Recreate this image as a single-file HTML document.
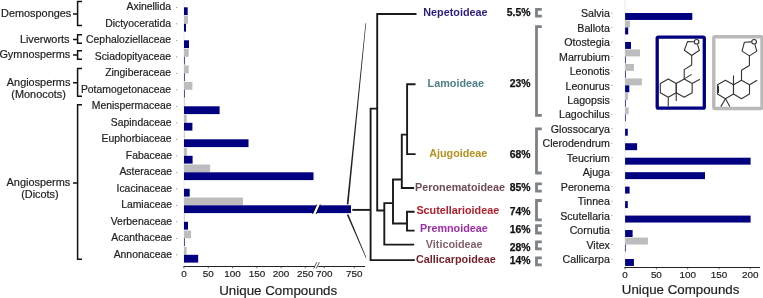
<!DOCTYPE html>
<html><head><meta charset="utf-8"><style>
html,body{margin:0;padding:0;background:#fff;}
svg{display:block;font-family:"Liberation Sans",sans-serif;will-change:transform;}
</style></head><body>
<svg width="763" height="298" viewBox="0 0 763 298">
<rect width="763" height="298" fill="#fff"/>
<rect x="183.60" y="0.00" width="1.00" height="266.00" fill="#ebebeb"/>
<rect x="184.00" y="7.30" width="3.70" height="7.80" fill="#000080"/>
<rect x="176.10" y="6.90" width="1.20" height="0.90" fill="#888"/>
<text x="171.00" y="10.30" font-size="10.4" text-anchor="end" font-weight="normal" fill="#1e1e1e" stroke="#1e1e1e" stroke-width="0.2">Axinellida</text>
<rect x="184.00" y="16.00" width="4.00" height="7.80" fill="#bdbdbd"/>
<rect x="184.00" y="23.80" width="2.00" height="7.80" fill="#000080"/>
<rect x="176.10" y="23.40" width="1.20" height="0.90" fill="#888"/>
<text x="171.00" y="26.80" font-size="10.4" text-anchor="end" font-weight="normal" fill="#1e1e1e" stroke="#1e1e1e" stroke-width="0.2">Dictyoceratida</text>
<rect x="184.00" y="40.30" width="5.00" height="7.80" fill="#000080"/>
<rect x="176.10" y="39.90" width="1.20" height="0.90" fill="#888"/>
<text x="171.00" y="43.30" font-size="10.4" text-anchor="end" font-weight="normal" fill="#1e1e1e" stroke="#1e1e1e" stroke-width="0.2">Cephaloziellaceae</text>
<rect x="184.00" y="49.00" width="4.70" height="7.80" fill="#bdbdbd"/>
<rect x="184.00" y="56.80" width="0.90" height="7.80" fill="#3b3bb0"/>
<rect x="176.10" y="56.40" width="1.20" height="0.90" fill="#888"/>
<text x="171.00" y="59.80" font-size="10.4" text-anchor="end" font-weight="normal" fill="#1e1e1e" stroke="#1e1e1e" stroke-width="0.2">Sciadopityaceae</text>
<rect x="184.00" y="65.50" width="4.70" height="7.80" fill="#bdbdbd"/>
<rect x="184.00" y="73.30" width="0.90" height="7.80" fill="#3b3bb0"/>
<rect x="176.10" y="72.90" width="1.20" height="0.90" fill="#888"/>
<text x="171.00" y="76.30" font-size="10.4" text-anchor="end" font-weight="normal" fill="#1e1e1e" stroke="#1e1e1e" stroke-width="0.2">Zingiberaceae</text>
<rect x="184.00" y="82.00" width="8.40" height="7.80" fill="#bdbdbd"/>
<rect x="184.00" y="89.80" width="0.90" height="7.80" fill="#3b3bb0"/>
<rect x="176.10" y="89.40" width="1.20" height="0.90" fill="#888"/>
<text x="171.00" y="92.80" font-size="10.4" text-anchor="end" font-weight="normal" fill="#1e1e1e" stroke="#1e1e1e" stroke-width="0.2">Potamogetonaceae</text>
<rect x="184.00" y="98.50" width="0.80" height="7.80" fill="#c8c8c8"/>
<rect x="184.00" y="106.30" width="35.60" height="7.80" fill="#000080"/>
<rect x="176.10" y="105.90" width="1.20" height="0.90" fill="#888"/>
<text x="171.50" y="109.30" font-size="10.4" text-anchor="end" font-weight="normal" fill="#1e1e1e" stroke="#1e1e1e" stroke-width="0.2">Menispermaceae</text>
<rect x="184.00" y="115.00" width="2.70" height="7.80" fill="#bdbdbd"/>
<rect x="184.00" y="122.80" width="8.40" height="7.80" fill="#000080"/>
<rect x="176.10" y="122.40" width="1.20" height="0.90" fill="#888"/>
<text x="171.50" y="125.80" font-size="10.4" text-anchor="end" font-weight="normal" fill="#1e1e1e" stroke="#1e1e1e" stroke-width="0.2">Sapindaceae</text>
<rect x="184.00" y="131.50" width="0.80" height="7.80" fill="#c8c8c8"/>
<rect x="184.00" y="139.30" width="64.50" height="7.80" fill="#000080"/>
<rect x="176.10" y="138.90" width="1.20" height="0.90" fill="#888"/>
<text x="171.50" y="142.30" font-size="10.4" text-anchor="end" font-weight="normal" fill="#1e1e1e" stroke="#1e1e1e" stroke-width="0.2">Euphorbiaceae</text>
<rect x="184.00" y="148.00" width="2.90" height="7.80" fill="#bdbdbd"/>
<rect x="184.00" y="155.80" width="8.60" height="7.80" fill="#000080"/>
<rect x="176.10" y="155.40" width="1.20" height="0.90" fill="#888"/>
<text x="172.00" y="158.80" font-size="10.4" text-anchor="end" font-weight="normal" fill="#1e1e1e" stroke="#1e1e1e" stroke-width="0.2">Fabaceae</text>
<rect x="184.00" y="164.50" width="26.20" height="7.80" fill="#bdbdbd"/>
<rect x="184.00" y="172.30" width="129.50" height="7.80" fill="#000080"/>
<rect x="176.10" y="171.90" width="1.20" height="0.90" fill="#888"/>
<text x="172.00" y="175.30" font-size="10.4" text-anchor="end" font-weight="normal" fill="#1e1e1e" stroke="#1e1e1e" stroke-width="0.2">Asteraceae</text>
<rect x="184.00" y="188.80" width="5.70" height="7.80" fill="#000080"/>
<rect x="176.10" y="188.40" width="1.20" height="0.90" fill="#888"/>
<text x="172.00" y="191.80" font-size="10.4" text-anchor="end" font-weight="normal" fill="#1e1e1e" stroke="#1e1e1e" stroke-width="0.2">Icacinaceae</text>
<rect x="184.00" y="197.50" width="59.00" height="7.80" fill="#bdbdbd"/>
<rect x="184.00" y="205.30" width="167.00" height="7.80" fill="#000080"/>
<rect x="176.10" y="204.90" width="1.20" height="0.90" fill="#888"/>
<text x="172.00" y="208.30" font-size="10.4" text-anchor="end" font-weight="normal" fill="#1e1e1e" stroke="#1e1e1e" stroke-width="0.2">Lamiaceae</text>
<rect x="184.00" y="214.00" width="0.80" height="7.80" fill="#c8c8c8"/>
<rect x="184.00" y="221.80" width="4.00" height="7.80" fill="#000080"/>
<rect x="176.10" y="221.40" width="1.20" height="0.90" fill="#888"/>
<text x="172.00" y="224.80" font-size="10.4" text-anchor="end" font-weight="normal" fill="#1e1e1e" stroke="#1e1e1e" stroke-width="0.2">Verbenaceae</text>
<rect x="184.00" y="230.50" width="7.10" height="7.80" fill="#bdbdbd"/>
<rect x="184.00" y="238.30" width="0.90" height="7.80" fill="#3b3bb0"/>
<rect x="176.10" y="237.90" width="1.20" height="0.90" fill="#888"/>
<text x="172.00" y="241.30" font-size="10.4" text-anchor="end" font-weight="normal" fill="#1e1e1e" stroke="#1e1e1e" stroke-width="0.2">Acanthaceae</text>
<rect x="184.00" y="247.00" width="2.60" height="7.80" fill="#bdbdbd"/>
<rect x="184.00" y="254.80" width="14.20" height="7.80" fill="#000080"/>
<rect x="176.10" y="254.40" width="1.20" height="0.90" fill="#888"/>
<text x="172.00" y="257.80" font-size="10.4" text-anchor="end" font-weight="normal" fill="#1e1e1e" stroke="#1e1e1e" stroke-width="0.2">Annonaceae</text>
<polygon points="312.90,214.10 315.90,214.10 320.00,204.30 317.00,204.30" fill="#fff"/>
<line x1="312.60" y1="213.90" x2="316.70" y2="204.50" stroke="#000040" stroke-width="0.9" stroke-linecap="butt"/>
<line x1="316.20" y1="213.90" x2="320.30" y2="204.50" stroke="#000040" stroke-width="0.9" stroke-linecap="butt"/>
<line x1="183.50" y1="266.50" x2="315.00" y2="266.50" stroke="#222" stroke-width="1.1" stroke-linecap="butt"/>
<line x1="318.20" y1="266.50" x2="365.00" y2="266.50" stroke="#222" stroke-width="1.1" stroke-linecap="butt"/>
<line x1="313.80" y1="268.60" x2="316.80" y2="262.20" stroke="#333" stroke-width="0.8" stroke-linecap="butt"/>
<line x1="316.20" y1="268.60" x2="319.40" y2="262.20" stroke="#333" stroke-width="0.8" stroke-linecap="butt"/>
<line x1="183.90" y1="266.50" x2="183.90" y2="268.30" stroke="#444" stroke-width="0.8" stroke-linecap="butt"/>
<text x="183.90" y="277.40" font-size="9.9" text-anchor="middle" font-weight="normal" fill="#1e1e1e" stroke="#1e1e1e" stroke-width="0.2">0</text>
<line x1="208.30" y1="266.50" x2="208.30" y2="268.30" stroke="#444" stroke-width="0.8" stroke-linecap="butt"/>
<text x="208.30" y="277.40" font-size="9.9" text-anchor="middle" font-weight="normal" fill="#1e1e1e" stroke="#1e1e1e" stroke-width="0.2">50</text>
<line x1="232.60" y1="266.50" x2="232.60" y2="268.30" stroke="#444" stroke-width="0.8" stroke-linecap="butt"/>
<text x="232.60" y="277.40" font-size="9.9" text-anchor="middle" font-weight="normal" fill="#1e1e1e" stroke="#1e1e1e" stroke-width="0.2">100</text>
<line x1="256.90" y1="266.50" x2="256.90" y2="268.30" stroke="#444" stroke-width="0.8" stroke-linecap="butt"/>
<text x="256.90" y="277.40" font-size="9.9" text-anchor="middle" font-weight="normal" fill="#1e1e1e" stroke="#1e1e1e" stroke-width="0.2">150</text>
<line x1="281.10" y1="266.50" x2="281.10" y2="268.30" stroke="#444" stroke-width="0.8" stroke-linecap="butt"/>
<text x="281.10" y="277.40" font-size="9.9" text-anchor="middle" font-weight="normal" fill="#1e1e1e" stroke="#1e1e1e" stroke-width="0.2">200</text>
<line x1="305.30" y1="266.50" x2="305.30" y2="268.30" stroke="#444" stroke-width="0.8" stroke-linecap="butt"/>
<text x="305.30" y="277.40" font-size="9.9" text-anchor="middle" font-weight="normal" fill="#1e1e1e" stroke="#1e1e1e" stroke-width="0.2">250</text>
<line x1="324.20" y1="266.50" x2="324.20" y2="268.30" stroke="#444" stroke-width="0.8" stroke-linecap="butt"/>
<text x="324.20" y="277.40" font-size="9.9" text-anchor="middle" font-weight="normal" fill="#1e1e1e" stroke="#1e1e1e" stroke-width="0.2">700</text>
<line x1="354.20" y1="266.50" x2="354.20" y2="268.30" stroke="#444" stroke-width="0.8" stroke-linecap="butt"/>
<text x="354.20" y="277.40" font-size="9.9" text-anchor="middle" font-weight="normal" fill="#1e1e1e" stroke="#1e1e1e" stroke-width="0.2">750</text>
<text x="278.20" y="295.00" font-size="13.35" text-anchor="middle" font-weight="normal" fill="#1e1e1e" stroke="#1e1e1e" stroke-width="0.2">Unique Compounds</text>
<path d="M82,1.60 H77.6 V25.50 H82 M73,13.90 H77.6" fill="none" stroke="#111" stroke-width="1.5"/>
<path d="M82,34.80 H77.6 V43.30 H82 M73,39.40 H77.6" fill="none" stroke="#111" stroke-width="1.5"/>
<path d="M82,50.70 H77.6 V59.20 H82 M73,55.00 H77.6" fill="none" stroke="#111" stroke-width="1.5"/>
<path d="M82,68.40 H77.6 V96.30 H82 M73,82.80 H77.6" fill="none" stroke="#111" stroke-width="1.5"/>
<path d="M82,104.80 H77.6 V259.30 H82 M73,183.00 H77.6" fill="none" stroke="#111" stroke-width="1.5"/>
<text x="71.30" y="16.90" font-size="10.9" text-anchor="end" font-weight="normal" fill="#1e1e1e" stroke="#1e1e1e" stroke-width="0.2">Demosponges</text>
<text x="69.50" y="42.70" font-size="10.9" text-anchor="end" font-weight="normal" fill="#1e1e1e" stroke="#1e1e1e" stroke-width="0.2">Liverworts</text>
<text x="70.20" y="58.00" font-size="10.9" text-anchor="end" font-weight="normal" fill="#1e1e1e" stroke="#1e1e1e" stroke-width="0.2">Gymnosperms</text>
<text x="38.60" y="86.20" font-size="10.9" text-anchor="middle" font-weight="normal" fill="#1e1e1e" stroke="#1e1e1e" stroke-width="0.2">Angiosperms</text>
<text x="38.60" y="97.90" font-size="10.9" text-anchor="middle" font-weight="normal" fill="#1e1e1e" stroke="#1e1e1e" stroke-width="0.2">(Monocots)</text>
<text x="38.40" y="185.80" font-size="10.9" text-anchor="middle" font-weight="normal" fill="#1e1e1e" stroke="#1e1e1e" stroke-width="0.2">Angiosperms</text>
<text x="39.90" y="197.90" font-size="10.9" text-anchor="middle" font-weight="normal" fill="#1e1e1e" stroke="#1e1e1e" stroke-width="0.2">(Dicots)</text>
<polygon points="348.45,204.38 366.10,23.23 365.50,23.17 346.75,204.22" fill="#222"/>
<polygon points="346.82,214.83 365.92,258.12 366.48,257.88 348.38,214.17" fill="#222"/>
<path d="M416.5,14.0 H377.2 V210.5 H384.3" fill="none" stroke="#1a1a1a" stroke-width="1.9" stroke-linejoin="miter" stroke-linecap="butt"/>
<path d="M352.3,209.9 H370.6" fill="none" stroke="#1a1a1a" stroke-width="1.9" stroke-linejoin="miter" stroke-linecap="butt"/>
<path d="M377.2,108.6 H370.6 V260.1 H414.8" fill="none" stroke="#1a1a1a" stroke-width="1.9" stroke-linejoin="miter" stroke-linecap="butt"/>
<path d="M393.0,203.1 H384.3 V244.6 H414.2" fill="none" stroke="#1a1a1a" stroke-width="1.9" stroke-linejoin="miter" stroke-linecap="butt"/>
<path d="M401.8,179.5 H393.0 V223.5 H407.0" fill="none" stroke="#1a1a1a" stroke-width="1.9" stroke-linejoin="miter" stroke-linecap="butt"/>
<path d="M414.6,211.7 H407.0 V230.6 H414.6" fill="none" stroke="#1a1a1a" stroke-width="1.9" stroke-linejoin="miter" stroke-linecap="butt"/>
<path d="M407.1,134.6 H401.8 V188.0 H414.1" fill="none" stroke="#1a1a1a" stroke-width="1.9" stroke-linejoin="miter" stroke-linecap="butt"/>
<path d="M415.5,84.2 H407.1 V154.1 H415.6" fill="none" stroke="#1a1a1a" stroke-width="1.9" stroke-linejoin="miter" stroke-linecap="butt"/>
<text x="423.30" y="15.90" font-size="10.8" text-anchor="start" font-weight="bold" fill="#2e1c7c">Nepetoideae</text>
<text x="427.60" y="86.70" font-size="10.8" text-anchor="start" font-weight="bold" fill="#4f7f86">Lamoideae</text>
<text x="429.20" y="156.80" font-size="10.8" text-anchor="start" font-weight="bold" fill="#b5911f">Ajugoideae</text>
<text x="415.10" y="190.70" font-size="10.8" text-anchor="start" font-weight="bold" fill="#6f4b55">Peronematoideae</text>
<text x="416.40" y="213.90" font-size="10.8" text-anchor="start" font-weight="bold" fill="#b0202d">Scutellarioideae</text>
<text x="420.00" y="231.90" font-size="10.8" text-anchor="start" font-weight="bold" fill="#a12caa">Premnoideae</text>
<text x="425.80" y="248.00" font-size="10.8" text-anchor="start" font-weight="bold" fill="#82606a">Viticoideae</text>
<text x="416.00" y="263.00" font-size="10.8" text-anchor="start" font-weight="bold" fill="#761f28">Callicarpoideae</text>
<text x="530.50" y="16.20" font-size="10.4" text-anchor="end" font-weight="bold" fill="#111" stroke="#111" stroke-width="0.25">5.5%</text>
<text x="530.50" y="86.90" font-size="10.4" text-anchor="end" font-weight="bold" fill="#111" stroke="#111" stroke-width="0.25">23%</text>
<text x="530.50" y="157.90" font-size="10.4" text-anchor="end" font-weight="bold" fill="#111" stroke="#111" stroke-width="0.25">68%</text>
<text x="530.50" y="190.70" font-size="10.4" text-anchor="end" font-weight="bold" fill="#111" stroke="#111" stroke-width="0.25">85%</text>
<text x="530.50" y="214.90" font-size="10.4" text-anchor="end" font-weight="bold" fill="#111" stroke="#111" stroke-width="0.25">74%</text>
<text x="530.50" y="232.80" font-size="10.4" text-anchor="end" font-weight="bold" fill="#111" stroke="#111" stroke-width="0.25">16%</text>
<text x="530.50" y="250.60" font-size="10.4" text-anchor="end" font-weight="bold" fill="#111" stroke="#111" stroke-width="0.25">28%</text>
<text x="530.50" y="264.20" font-size="10.4" text-anchor="end" font-weight="bold" fill="#111" stroke="#111" stroke-width="0.25">14%</text>
<path d="M541.8,9.40 H536.5 V16.20 H541.8" fill="none" stroke="#7d8288" stroke-width="2.8"/>
<path d="M541.8,26.70 H536.5 V115.40 H541.8" fill="none" stroke="#7d8288" stroke-width="2.8"/>
<path d="M541.8,128.80 H536.5 V173.00 H541.8" fill="none" stroke="#7d8288" stroke-width="2.8"/>
<path d="M541.8,183.80 H536.5 V191.20 H541.8" fill="none" stroke="#7d8288" stroke-width="2.8"/>
<path d="M541.8,200.50 H536.5 V219.90 H541.8" fill="none" stroke="#7d8288" stroke-width="2.8"/>
<path d="M541.8,225.70 H536.5 V233.00 H541.8" fill="none" stroke="#7d8288" stroke-width="2.8"/>
<path d="M541.8,241.80 H536.5 V248.90 H541.8" fill="none" stroke="#7d8288" stroke-width="2.8"/>
<path d="M541.8,257.80 H536.5 V264.80 H541.8" fill="none" stroke="#7d8288" stroke-width="2.8"/>
<rect x="624.60" y="0.00" width="1.00" height="267.00" fill="#ebebeb"/>
<rect x="625.10" y="13.00" width="67.20" height="6.95" fill="#000080"/>
<rect x="611.40" y="12.60" width="1.10" height="0.90" fill="#888"/>
<text x="609.90" y="17.20" font-size="10.65" text-anchor="end" font-weight="normal" fill="#1e1e1e" stroke="#1e1e1e" stroke-width="0.2">Salvia</text>
<rect x="625.10" y="20.52" width="4.80" height="6.95" fill="#bdbdbd"/>
<rect x="625.10" y="27.47" width="3.10" height="6.95" fill="#000080"/>
<rect x="611.40" y="27.07" width="1.10" height="0.90" fill="#888"/>
<text x="609.90" y="31.67" font-size="10.65" text-anchor="end" font-weight="normal" fill="#1e1e1e" stroke="#1e1e1e" stroke-width="0.2">Ballota</text>
<rect x="625.10" y="41.94" width="5.90" height="6.95" fill="#000080"/>
<rect x="611.40" y="41.54" width="1.10" height="0.90" fill="#888"/>
<text x="609.90" y="46.14" font-size="10.65" text-anchor="end" font-weight="normal" fill="#1e1e1e" stroke="#1e1e1e" stroke-width="0.2">Otostegia</text>
<rect x="625.10" y="49.46" width="14.90" height="6.95" fill="#bdbdbd"/>
<rect x="625.10" y="56.41" width="0.90" height="6.95" fill="#3b3bb0"/>
<rect x="611.40" y="56.01" width="1.10" height="0.90" fill="#888"/>
<text x="609.90" y="60.61" font-size="10.65" text-anchor="end" font-weight="normal" fill="#1e1e1e" stroke="#1e1e1e" stroke-width="0.2">Marrubium</text>
<rect x="625.10" y="63.93" width="8.90" height="6.95" fill="#bdbdbd"/>
<rect x="625.10" y="70.88" width="0.90" height="6.95" fill="#3b3bb0"/>
<rect x="611.40" y="70.48" width="1.10" height="0.90" fill="#888"/>
<text x="609.90" y="75.08" font-size="10.65" text-anchor="end" font-weight="normal" fill="#1e1e1e" stroke="#1e1e1e" stroke-width="0.2">Leonotis</text>
<rect x="625.10" y="78.40" width="16.80" height="6.95" fill="#bdbdbd"/>
<rect x="625.10" y="85.35" width="4.20" height="6.95" fill="#000080"/>
<rect x="611.40" y="84.95" width="1.10" height="0.90" fill="#888"/>
<text x="609.90" y="89.55" font-size="10.65" text-anchor="end" font-weight="normal" fill="#1e1e1e" stroke="#1e1e1e" stroke-width="0.2">Leonurus</text>
<rect x="625.10" y="92.87" width="2.80" height="6.95" fill="#bdbdbd"/>
<rect x="625.10" y="99.82" width="0.90" height="6.95" fill="#3b3bb0"/>
<rect x="611.40" y="99.42" width="1.10" height="0.90" fill="#888"/>
<text x="609.90" y="104.02" font-size="10.65" text-anchor="end" font-weight="normal" fill="#1e1e1e" stroke="#1e1e1e" stroke-width="0.2">Lagopsis</text>
<rect x="625.10" y="107.34" width="3.50" height="6.95" fill="#bdbdbd"/>
<rect x="625.10" y="114.29" width="0.90" height="6.95" fill="#3b3bb0"/>
<rect x="611.40" y="113.89" width="1.10" height="0.90" fill="#888"/>
<text x="609.90" y="118.49" font-size="10.65" text-anchor="end" font-weight="normal" fill="#1e1e1e" stroke="#1e1e1e" stroke-width="0.2">Lagochilus</text>
<rect x="625.10" y="128.76" width="2.70" height="6.95" fill="#000080"/>
<rect x="611.40" y="128.36" width="1.10" height="0.90" fill="#888"/>
<text x="609.90" y="132.96" font-size="10.65" text-anchor="end" font-weight="normal" fill="#1e1e1e" stroke="#1e1e1e" stroke-width="0.2">Glossocarya</text>
<rect x="625.10" y="143.23" width="12.00" height="6.95" fill="#000080"/>
<rect x="611.40" y="142.83" width="1.10" height="0.90" fill="#888"/>
<text x="609.90" y="147.43" font-size="10.65" text-anchor="end" font-weight="normal" fill="#1e1e1e" stroke="#1e1e1e" stroke-width="0.2">Clerodendrum</text>
<rect x="625.10" y="157.70" width="125.50" height="6.95" fill="#000080"/>
<rect x="611.40" y="157.30" width="1.10" height="0.90" fill="#888"/>
<text x="609.90" y="161.90" font-size="10.65" text-anchor="end" font-weight="normal" fill="#1e1e1e" stroke="#1e1e1e" stroke-width="0.2">Teucrium</text>
<rect x="625.10" y="172.17" width="79.90" height="6.95" fill="#000080"/>
<rect x="611.40" y="171.77" width="1.10" height="0.90" fill="#888"/>
<text x="609.90" y="176.37" font-size="10.65" text-anchor="end" font-weight="normal" fill="#1e1e1e" stroke="#1e1e1e" stroke-width="0.2">Ajuga</text>
<rect x="625.10" y="186.64" width="4.50" height="6.95" fill="#000080"/>
<rect x="611.40" y="186.24" width="1.10" height="0.90" fill="#888"/>
<text x="609.90" y="190.84" font-size="10.65" text-anchor="end" font-weight="normal" fill="#1e1e1e" stroke="#1e1e1e" stroke-width="0.2">Peronema</text>
<rect x="625.10" y="201.11" width="2.70" height="6.95" fill="#000080"/>
<rect x="611.40" y="200.71" width="1.10" height="0.90" fill="#888"/>
<text x="609.90" y="205.31" font-size="10.65" text-anchor="end" font-weight="normal" fill="#1e1e1e" stroke="#1e1e1e" stroke-width="0.2">Tinnea</text>
<rect x="625.10" y="215.58" width="125.50" height="6.95" fill="#000080"/>
<rect x="611.40" y="215.18" width="1.10" height="0.90" fill="#888"/>
<text x="609.90" y="219.78" font-size="10.65" text-anchor="end" font-weight="normal" fill="#1e1e1e" stroke="#1e1e1e" stroke-width="0.2">Scutellaria</text>
<rect x="625.10" y="230.05" width="7.50" height="6.95" fill="#000080"/>
<rect x="611.40" y="229.65" width="1.10" height="0.90" fill="#888"/>
<text x="609.90" y="234.25" font-size="10.65" text-anchor="end" font-weight="normal" fill="#1e1e1e" stroke="#1e1e1e" stroke-width="0.2">Cornutia</text>
<rect x="625.10" y="237.57" width="22.80" height="6.95" fill="#bdbdbd"/>
<rect x="625.10" y="244.52" width="0.90" height="6.95" fill="#3b3bb0"/>
<rect x="611.40" y="244.12" width="1.10" height="0.90" fill="#888"/>
<text x="609.90" y="248.72" font-size="10.65" text-anchor="end" font-weight="normal" fill="#1e1e1e" stroke="#1e1e1e" stroke-width="0.2">Vitex</text>
<rect x="625.10" y="258.99" width="8.80" height="6.95" fill="#000080"/>
<rect x="611.40" y="258.59" width="1.10" height="0.90" fill="#888"/>
<text x="609.90" y="263.19" font-size="10.65" text-anchor="end" font-weight="normal" fill="#1e1e1e" stroke="#1e1e1e" stroke-width="0.2">Callicarpa</text>
<line x1="624.40" y1="267.50" x2="760.10" y2="267.50" stroke="#222" stroke-width="1.0" stroke-linecap="butt"/>
<line x1="625.10" y1="267.50" x2="625.10" y2="269.30" stroke="#444" stroke-width="0.8" stroke-linecap="butt"/>
<text x="625.10" y="278.10" font-size="9.9" text-anchor="middle" font-weight="normal" fill="#1e1e1e" stroke="#1e1e1e" stroke-width="0.2">0</text>
<line x1="656.38" y1="267.50" x2="656.38" y2="269.30" stroke="#444" stroke-width="0.8" stroke-linecap="butt"/>
<text x="656.38" y="278.10" font-size="9.9" text-anchor="middle" font-weight="normal" fill="#1e1e1e" stroke="#1e1e1e" stroke-width="0.2">50</text>
<line x1="687.65" y1="267.50" x2="687.65" y2="269.30" stroke="#444" stroke-width="0.8" stroke-linecap="butt"/>
<text x="687.65" y="278.10" font-size="9.9" text-anchor="middle" font-weight="normal" fill="#1e1e1e" stroke="#1e1e1e" stroke-width="0.2">100</text>
<line x1="718.92" y1="267.50" x2="718.92" y2="269.30" stroke="#444" stroke-width="0.8" stroke-linecap="butt"/>
<text x="718.92" y="278.10" font-size="9.9" text-anchor="middle" font-weight="normal" fill="#1e1e1e" stroke="#1e1e1e" stroke-width="0.2">150</text>
<line x1="750.20" y1="267.50" x2="750.20" y2="269.30" stroke="#444" stroke-width="0.8" stroke-linecap="butt"/>
<text x="750.20" y="278.10" font-size="9.9" text-anchor="middle" font-weight="normal" fill="#1e1e1e" stroke="#1e1e1e" stroke-width="0.2">200</text>
<text x="680.60" y="293.80" font-size="13.3" text-anchor="middle" font-weight="normal" fill="#1e1e1e" stroke="#1e1e1e" stroke-width="0.2">Unique Compounds</text>
<rect x="657.2" y="37.1" width="47.1" height="71.0" rx="1.2" fill="none" stroke="#000080" stroke-width="3.3"/>
<rect x="713.8" y="36.8" width="48.2" height="71.7" rx="1.2" fill="none" stroke="#b9b9b9" stroke-width="3.4"/>
<path d="M684.20,78.90 L692.17,83.50 L692.17,92.70 L684.20,97.30 L676.23,92.70 L676.23,83.50 Z" fill="none" stroke="#333" stroke-width="1.1" stroke-linejoin="round"/>
<path d="M668.27,78.90 L676.23,83.50 L676.23,92.70 L668.27,97.30 L660.30,92.70 L660.30,83.50 Z" fill="none" stroke="#333" stroke-width="1.1" stroke-linejoin="round"/>
<path d="M693.90,41.74 L687.50,41.60 L684.40,50.30 L691.70,55.50 L699.40,50.30 L697.44,44.36" fill="none" stroke="#333" stroke-width="1.1" stroke-linejoin="round"/>
<ellipse cx="696.60" cy="41.80" rx="2.35" ry="2.25" fill="none" stroke="#333" stroke-width="1.1"/>
<path d="M691.70,55.50 L691.70,65.00 L684.20,69.60 L684.20,78.90" fill="none" stroke="#333" stroke-width="1.1" stroke-linejoin="round"/>
<line x1="684.20" y1="78.90" x2="691.70" y2="74.40" stroke="#333" stroke-width="1.1" stroke-linecap="butt"/>
<line x1="692.17" y1="83.50" x2="699.90" y2="79.30" stroke="#333" stroke-width="1.1" stroke-linecap="butt"/>
<line x1="676.23" y1="92.70" x2="676.23" y2="100.90" stroke="#333" stroke-width="1.1" stroke-linecap="butt"/>
<line x1="668.27" y1="97.30" x2="668.27" y2="106.60" stroke="#333" stroke-width="1.1" stroke-linecap="butt"/>
<path d="M741.50,80.20 L749.51,84.83 L749.51,94.08 L741.50,98.70 L733.49,94.08 L733.49,84.83 Z" fill="none" stroke="#333" stroke-width="1.1" stroke-linejoin="round"/>
<path d="M725.48,80.20 L733.49,84.83 L733.49,94.08 L725.48,98.70 L717.47,94.08 L717.47,84.83 Z" fill="none" stroke="#333" stroke-width="1.1" stroke-linejoin="round"/>
<line x1="718.47" y1="85.83" x2="718.47" y2="93.08" stroke="#333" stroke-width="1.1" stroke-linecap="butt"/>
<path d="M751.40,41.91 L744.40,42.20 L742.10,51.10 L749.40,55.90 L756.80,51.10 L754.85,44.39" fill="none" stroke="#333" stroke-width="1.1" stroke-linejoin="round"/>
<ellipse cx="754.10" cy="41.80" rx="2.35" ry="2.25" fill="none" stroke="#333" stroke-width="1.1"/>
<path d="M749.40,55.90 L749.40,65.50 L741.50,70.20 L741.50,80.20" fill="none" stroke="#333" stroke-width="1.1" stroke-linejoin="round"/>
<line x1="733.49" y1="84.83" x2="733.49" y2="75.40" stroke="#333" stroke-width="1.1" stroke-linecap="butt"/>
<line x1="749.51" y1="84.83" x2="757.20" y2="80.20" stroke="#333" stroke-width="1.1" stroke-linecap="butt"/>
<line x1="725.48" y1="98.70" x2="720.80" y2="106.60" stroke="#333" stroke-width="1.1" stroke-linecap="butt"/>
<line x1="725.48" y1="98.70" x2="729.80" y2="106.60" stroke="#333" stroke-width="1.1" stroke-linecap="butt"/>
</svg>
</body></html>
